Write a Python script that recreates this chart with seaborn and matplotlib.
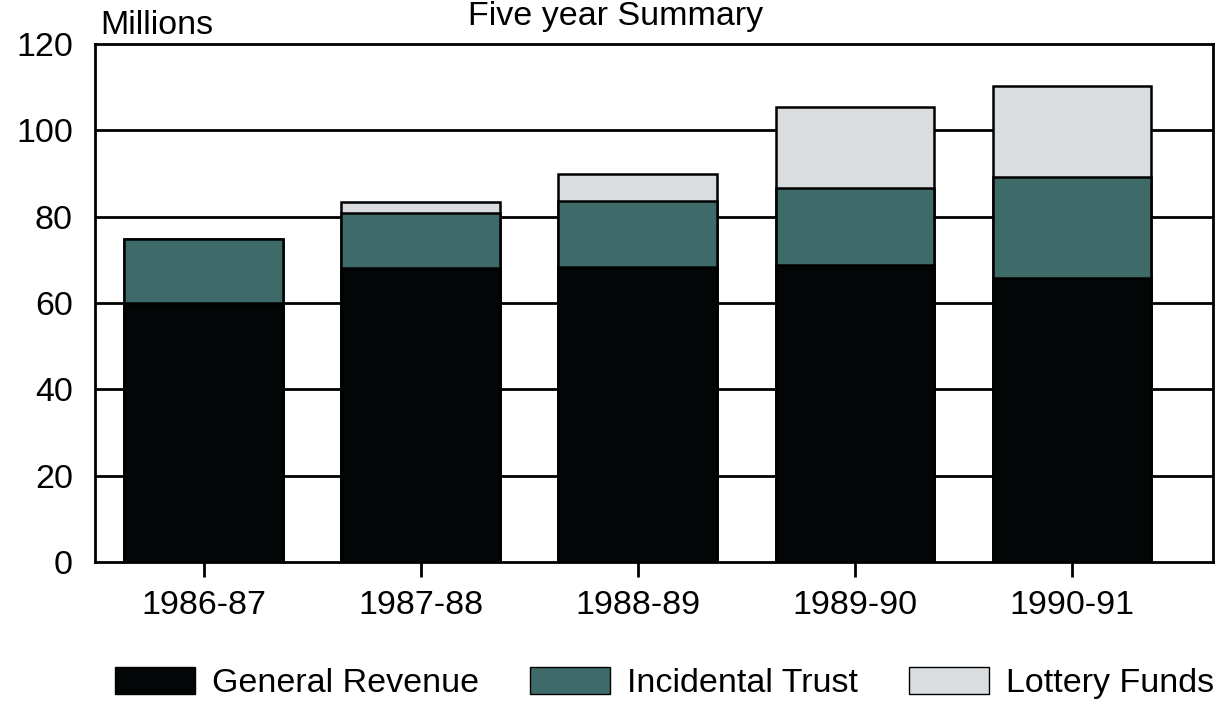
import numpy as np
import pandas as pd
import matplotlib
matplotlib.use("Agg")
import matplotlib.pyplot as plt
from matplotlib.patches import Patch
import seaborn as sns

years = ["1986-87", "1987-88", "1988-89", "1989-90", "1990-91"]
general_revenue = [60.1, 68.0, 68.4, 68.8, 65.9]
incidental_trust = [14.7, 12.9, 15.2, 17.8, 23.2]
lottery_funds = [0.0, 2.4, 6.2, 18.7, 21.2]
series_names = ["General Revenue", "Incidental Trust", "Lottery Funds"]
colors = ["#030606", "#3e6a6a", "#d9dde0"]
yticks = [0, 20, 40, 60, 80, 100, 120]

sns.set_theme(style="white")
plt.rcParams['font.family'] = ['Liberation Sans', 'DejaVu Sans']
plt.rcParams['text.color'] = 'black'

FS = 24.5
fig = plt.figure(figsize=(12.19, 7.02), dpi=100)
ax = fig.add_axes([95/1219, 1-562/702, (1213-95)/1219, (562-44)/702])

c1 = np.array(general_revenue)
c2 = c1 + np.array(incidental_trust)
c3 = c2 + np.array(lottery_funds)
df = pd.DataFrame({"year": years, "gr": c1, "it": c2, "lf": c3})

for col, color in zip(["lf", "it", "gr"], colors[::-1]):
    sns.barplot(data=df, x="year", y=col, color=color, width=0.73,
                edgecolor="black", linewidth=1.8, ax=ax, zorder=3,
                saturation=1)

ax.set_ylim(0, 120)
ax.set_xlim(-0.5, 4.65)
ax.set_yticks(yticks)
ax.set_yticklabels([str(t) for t in yticks])
ax.set_xlabel("")
ax.set_ylabel("")
for t in [20, 40, 60, 80, 100]:
    ax.axhline(t, color="black", linewidth=2, zorder=1)
for s in ax.spines.values():
    s.set_visible(True)
    s.set_color("black")
    s.set_linewidth(2)
ax.tick_params(axis="y", length=0, pad=16, labelsize=FS, colors="black")
ax.tick_params(axis="x", length=11, width=2, direction="out", pad=9,
               labelsize=FS, colors="black", bottom=True)

fig.text(100/1219, 1-25/702, "Millions", fontsize=FS, va="center", ha="left")
fig.text(0.505, 0.999, "Five year Summary", fontsize=FS, va="top", ha="center")

handles = [Patch(facecolor=c, edgecolor="black", linewidth=1) for c in colors]
fig.legend(handles, series_names, loc="center", bbox_to_anchor=(0.545, 1-683/702),
           ncol=3, frameon=False, fontsize=FS, handlelength=2.35, handleheight=0.85,
           handletextpad=0.5, columnspacing=1.5, borderpad=0)

fig.savefig("out.png", dpi=100)
